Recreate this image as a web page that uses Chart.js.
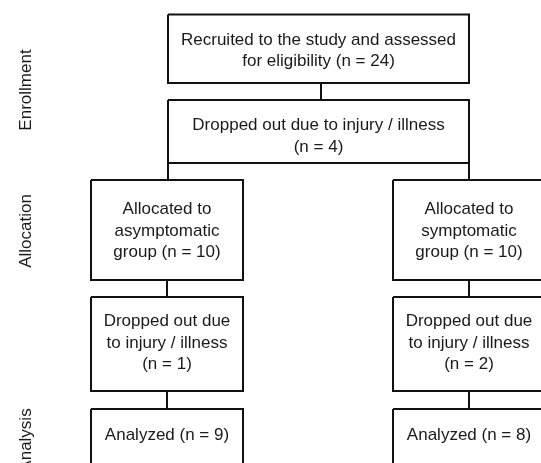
<!DOCTYPE html>
<html>
<head>
<meta charset="utf-8">
<script src="https://cdn.jsdelivr.net/npm/chart.js@4.4.1/dist/chart.umd.min.js"></script>
<style>
  html,body{margin:0;padding:0;background:#fff;}
  #wrap{width:541px;height:463px;}
</style>
</head>
<body>
<div id="wrap"><canvas id="flow" width="541" height="463"></canvas></div>
<script>
// stage labels on the left
var stageNames = ["Enrollment", "Allocation", "Analysis"];

// box texts and counts
var boxLines = [
  ["Recruited to the study and assessed", "for eligibility"],
  ["Dropped out due to injury / illness"],
  ["Allocated to", "asymptomatic", "group"],
  ["Allocated to", "symptomatic", "group"],
  ["Dropped out due", "to injury / illness"],
  ["Dropped out due", "to injury / illness"],
  ["Analyzed"],
  ["Analyzed"]
];
var boxCounts = [24, 4, 10, 10, 1, 2, 9, 8];
// whether the "(n = x)" goes on its own line
var countOwnLine = [false, true, false, false, true, true, false, false];

// layout (diagram units = px of the 541x463 picture)
var boxRect = [
  [168, 14.5, 469, 83],
  [168, 100, 469, 163],
  [91, 180, 243, 280],
  [393, 180, 545, 280],
  [91, 297, 243, 391],
  [393, 297, 545, 391],
  [91, 409, 243, 505],
  [393, 409, 545, 505]
];
var textCenterY = [51, 136.5, 231, 231, 343, 343, 435, 435];
var links = [
  [321, 83, 321, 100],
  [168, 163, 168, 180],
  [469, 163, 469, 180],
  [167, 280, 167, 297],
  [469, 280, 469, 297],
  [167, 391, 167, 409],
  [469, 391, 469, 409]
];
var stageY = [90, 231, 440];
var stageX = 26;

var ink = "#111";
var datasets = [];

//BOXES AS CLOSED LINES
boxRect.forEach(function(r){
  datasets.push({
    data: [{x:r[0],y:r[1]},{x:r[2],y:r[1]},{x:r[2],y:r[3]},{x:r[0],y:r[3]},{x:r[0],y:r[1]}],
    showLine: true, borderColor: ink, borderWidth: 2, pointRadius: 0, fill: false,
    borderJoinStyle: "miter", tension: 0
  });
});
//CONNECTORS
links.forEach(function(l){
  datasets.push({
    data: [{x:l[0],y:l[1]},{x:l[2],y:l[3]}],
    showLine: true, borderColor: ink, borderWidth: 2, pointRadius: 0, fill: false
  });
});

//TEXT PLUGIN
var textPlugin = {
  id: "flowText",
  afterDatasetsDraw: function(chart){
    var c = chart.ctx, xs = chart.scales.x, ys = chart.scales.y;
    var lh = 21.5;
    c.save();
    c.fillStyle = "#1a1a1a";
    c.font = "17px 'Liberation Sans', Arial, sans-serif";
    c.textAlign = "center";
    c.textBaseline = "middle";
    boxRect.forEach(function(r, i){
      var lines = boxLines[i].slice();
      var nTxt = "(n = " + boxCounts[i] + ")";
      if (countOwnLine[i]) lines.push(nTxt);
      else lines[lines.length-1] = lines[lines.length-1] + " " + nTxt;
      var cx = xs.getPixelForValue((r[0] + r[2]) / 2);
      var cy = ys.getPixelForValue(textCenterY[i]);
      var y0 = cy - (lines.length - 1) * lh / 2;
      lines.forEach(function(t, k){ c.fillText(t, cx, y0 + k * lh); });
    });
    stageNames.forEach(function(s, i){
      c.save();
      c.translate(xs.getPixelForValue(stageX), ys.getPixelForValue(stageY[i]));
      c.rotate(-Math.PI / 2);
      c.fillText(s, 0, 0);
      c.restore();
    });
    c.restore();
  }
};

var chart = new Chart(document.getElementById("flow"), {
  type: "scatter",
  data: { datasets: datasets },
  options: {
    responsive: false,
    devicePixelRatio: 1,
    animation: false,
    layout: { padding: 0 },
    plugins: { legend: { display: false }, tooltip: { enabled: false } },
    scales: {
      x: { type: "linear", min: 0, max: 541, display: false },
      y: { type: "linear", min: 0, max: 463, reverse: true, display: false }
    }
  },
  plugins: [textPlugin]
});
</script>
</body>
</html>
